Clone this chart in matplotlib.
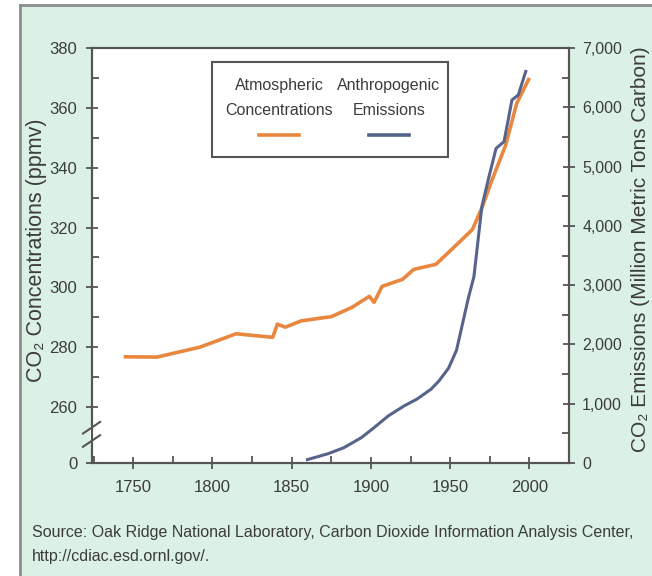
import matplotlib
matplotlib.use('Agg')
import matplotlib.pyplot as plt
from matplotlib.patches import Rectangle
from matplotlib.lines import Line2D
from matplotlib.ticker import FixedLocator, MultipleLocator, FuncFormatter

plt.rcParams['font.family'] = ['Liberation Sans', 'DejaVu Sans']

# atmospheric CO2 concentration (ppmv), left axis
conc_years = [1744, 1765, 1792, 1815, 1838, 1841, 1846, 1856, 1868, 1875, 1888,
              1899, 1902, 1907, 1920, 1927, 1941, 1951, 1964, 1970, 1976, 1985,
              1992, 2000]
conc_ppmv = [276.8, 276.7, 280.0, 284.5, 283.3, 287.7, 286.7, 288.8, 289.7, 290.2,
             293.3, 297.0, 295.0, 300.3, 302.7, 306.0, 307.7, 312.7, 319.3, 326.5,
             335.3, 347.5, 361.5, 370.0]

# anthropogenic emissions (million metric tons carbon), right axis
emis_years = [1859, 1873, 1883, 1894, 1902, 1911, 1921, 1929, 1938, 1943, 1949,
              1954, 1961.5, 1965, 1970, 1974.5, 1979, 1984, 1989, 1993, 1998]
emis_mtc = [50, 157, 259, 428, 597, 795, 964, 1077, 1246, 1386, 1600,
            1900, 2783, 3143, 4323, 4830, 5308, 5420, 6123, 6207, 6629]

left_ticks = [260, 280, 300, 320, 340, 360, 380]
right_ticks = [0, 1000, 2000, 3000, 4000, 5000, 6000, 7000]
year_ticks = [1750, 1800, 1850, 1900, 1950, 2000]

MINT = '#dbf1e5'
ORANGE = '#e8873f'
BLUE = '#56648c'
GREY = '#3c3c3c'
SPINE = '#555555'

fig = plt.figure(figsize=(6.52, 5.76), dpi=100)
fig.patch.set_facecolor('white')
fig.patches.append(Rectangle((20 / 652, 0), 1, 571 / 576, transform=fig.transFigure,
                             facecolor=MINT, edgecolor='none', zorder=-10))
fig.add_artist(Line2D([20 / 652, 20 / 652], [0, 571 / 576], transform=fig.transFigure,
                      color='#8c8c8c', lw=2))
fig.add_artist(Line2D([20 / 652, 1], [571 / 576, 571 / 576], transform=fig.transFigure,
                      color='#8c8c8c', lw=2))

ax = fig.add_axes([92 / 652, 1 - 463 / 576, 477 / 652, 415 / 576])
ax.set_facecolor('white')
ax2 = ax.twinx()

ax.plot(conc_years, conc_ppmv, color=ORANGE, lw=2.6, solid_capstyle='butt', zorder=3)
ax2.plot(emis_years, emis_mtc, color=BLUE, lw=2.2, solid_capstyle='butt')

ax.set_xlim(1724, 2025)
y_bottom = 241.3
ax.set_ylim(y_bottom, 380)
ax2.set_ylim(0, 7000)

ax.set_xticks(year_ticks)
ax.xaxis.set_minor_locator(MultipleLocator(25))
ax.yaxis.set_major_locator(FixedLocator([y_bottom] + left_ticks))
ax.yaxis.set_major_formatter(FuncFormatter(lambda v, p: '0' if v < 250 else f'{v:.0f}'))
ax.yaxis.set_minor_locator(FixedLocator([270, 290, 310, 330, 350, 370]))
ax2.yaxis.set_major_locator(FixedLocator(right_ticks))
ax2.yaxis.set_major_formatter(FuncFormatter(lambda v, p: f'{v:,.0f}'))
ax2.yaxis.set_minor_locator(MultipleLocator(500))

for a in (ax, ax2):
    for s in a.spines.values():
        s.set_color(SPINE)
        s.set_linewidth(1.5)
    a.tick_params(which='major', direction='inout', length=9, width=1.3, color=SPINE,
                  labelsize=12, labelcolor=GREY)
    a.tick_params(which='minor', direction='in', length=5, width=1.3, color=SPINE)
ax.tick_params(axis='x', pad=8)
ax.tick_params(axis='y', pad=6)
ax2.tick_params(axis='y', pad=5, labelsize=11.5)

# axis break marks on the left spine
ax.plot([0, 0], [0.052, 0.085], transform=ax.transAxes, color='white', lw=3,
        clip_on=False, zorder=6)
for yc in (0.053, 0.085):
    ax.plot([-0.019, 0.017], [yc - 0.014, yc + 0.014], transform=ax.transAxes,
            color=SPINE, lw=1.5, clip_on=False, zorder=7)

fig.text(37 / 652, 1 - 250 / 576, 'CO\u2082 Concentrations (ppmv)', rotation=90,
         ha='center', va='center', fontsize=15.5, color=GREY)
fig.text(640 / 652, 1 - 249 / 576, 'CO\u2082 Emissions (Million Metric Tons Carbon)',
         rotation=90, ha='center', va='center', fontsize=15, color=GREY)

# legend box with text above the sample lines
ax2.add_patch(Rectangle((0.2516, 0.7373), 0.4947, 0.229, transform=ax2.transAxes,
                        facecolor='white', edgecolor=SPINE, lw=1.5, zorder=5))
for xc, top, bottom, col in ((0.392, 'Atmospheric', 'Concentrations', ORANGE),
                             (0.6226, 'Anthropogenic', 'Emissions', BLUE)):
    ax2.text(xc, 0.9108, top, transform=ax2.transAxes, ha='center', va='center',
             fontsize=11.5, color=GREY, zorder=6)
    ax2.text(xc, 0.8506, bottom, transform=ax2.transAxes, ha='center', va='center',
             fontsize=11.5, color=GREY, zorder=6)
    ax2.add_line(Line2D([xc - 0.041, xc + 0.041], [0.7904, 0.7904], transform=ax2.transAxes,
                        color=col, lw=2.6, zorder=6))

fig.text(32 / 652, 1 - 533 / 576,
         'Source: Oak Ridge National Laboratory, Carbon Dioxide Information Analysis Center,',
         ha='left', va='center', fontsize=11.5, color=GREY)
fig.text(32 / 652, 1 - 557 / 576, 'http://cdiac.esd.ornl.gov/.',
         ha='left', va='center', fontsize=11.5, color=GREY)

fig.savefig('out.png', dpi=100)
